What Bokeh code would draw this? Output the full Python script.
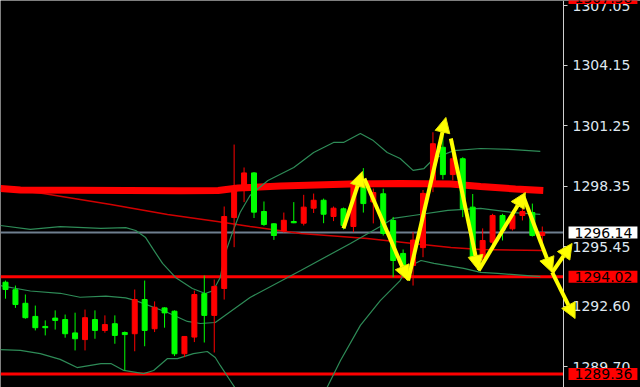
from bokeh.plotting import figure
from bokeh.models import (Range1d, FixedTicker, PrintfTickFormatter, Label, Arrow,
                          NormalHead, ColumnDataSource)
from bokeh.embed import file_html
from bokeh.resources import INLINE

# ---------------- data ----------------
opens = [1293.76, 1293.40, 1292.75, 1292.12, 1291.64, 1292.04, 1291.97, 1291.33, 1291.01, 1291.97,
         1291.45, 1291.77, 1291.35, 1291.29, 1292.93, 1291.53, 1292.53, 1292.37, 1290.33, 1291.13,
         1293.21, 1292.17, 1293.46, 1296.86, 1298.25, 1299.00, 1297.15, 1296.56, 1296.22, 1296.67,
         1296.59, 1297.31, 1297.69, 1296.91, 1297.28, 1296.43, 1298.33, 1297.61, 1298.00, 1296.72,
         1295.14, 1294.56, 1295.42, 1298.56, 1300.23, 1298.92, 1299.68, 1297.36, 1294.96, 1295.68,
         1296.96, 1296.32, 1296.96, 1297.10, 1296.00]
highs = [1293.84, 1293.60, 1293.17, 1292.64, 1291.93, 1292.41, 1292.21, 1292.30, 1292.45, 1292.41,
         1292.17, 1292.17, 1291.40, 1293.41, 1293.84, 1292.84, 1292.56, 1292.41, 1291.17, 1293.36,
         1294.08, 1293.89, 1297.39, 1300.36, 1299.26, 1299.04, 1297.63, 1296.59, 1297.10, 1297.60,
         1297.95, 1298.01, 1297.77, 1297.39, 1297.34, 1298.54, 1299.23, 1298.25, 1298.24, 1296.89,
         1295.33, 1296.16, 1298.18, 1300.95, 1300.99, 1300.55, 1299.75, 1297.99, 1296.34, 1297.04,
         1297.04, 1297.20, 1297.53, 1297.53, 1296.43]
lows = [1292.97, 1292.53, 1292.01, 1291.45, 1291.21, 1291.49, 1291.10, 1290.49, 1290.49, 1291.05,
        1291.34, 1290.81, 1289.53, 1290.45, 1290.69, 1291.37, 1291.58, 1290.22, 1290.17, 1290.89,
        1290.87, 1290.39, 1292.93, 1295.44, 1297.60, 1296.84, 1296.46, 1295.79, 1296.14, 1296.59,
        1296.48, 1297.08, 1296.59, 1296.69, 1296.29, 1296.16, 1297.10, 1296.58, 1296.00, 1294.00,
        1294.03, 1293.60, 1294.96, 1298.08, 1298.69, 1298.64, 1296.88, 1294.85, 1294.72, 1295.36,
        1295.76, 1296.24, 1296.72, 1295.95, 1295.42]
closes = [1293.41, 1292.69, 1292.06, 1291.58, 1291.58, 1291.93, 1291.29, 1291.05, 1292.06, 1291.45,
          1291.73, 1291.21, 1291.25, 1292.93, 1291.45, 1292.56, 1292.29, 1290.33, 1291.16, 1293.17,
          1292.17, 1293.56, 1296.91, 1298.25, 1299.00, 1297.12, 1296.53, 1296.00, 1296.73, 1296.61,
          1297.36, 1297.69, 1297.02, 1297.31, 1296.48, 1298.47, 1297.53, 1298.06, 1296.10, 1294.80,
          1294.23, 1295.78, 1298.02, 1300.40, 1298.92, 1299.68, 1297.28, 1294.96, 1295.76, 1296.96,
          1296.24, 1296.96, 1297.15, 1296.00, 1296.14]

# Bollinger bands (bar position, price)
bb_up_x = [-0.5, 2.5, 5.5, 9.6, 12.1, 13.1, 14.1, 14.8, 15.8, 17.1, 18.8, 20.1, 20.9, 21.6, 22.1,
           22.8, 23.6, 24.6, 26.4, 29.0, 31.0, 33.0, 34.0, 35.7, 37.0, 38.4, 39.7, 41.0, 42.1, 43.1,
           45.1, 47.8, 51.1, 53.8]
bb_up_y = [1296.48, 1296.29, 1296.43, 1296.34, 1296.38, 1296.24, 1295.90, 1295.38, 1294.66, 1293.99,
           1293.46, 1293.22, 1293.36, 1293.99, 1295.14, 1296.10, 1297.10, 1297.92, 1298.64, 1299.26,
           1299.98, 1300.46, 1300.46, 1300.89, 1300.55, 1299.98, 1299.69, 1299.12, 1299.21, 1299.69,
           1300.07, 1300.17, 1300.12, 1300.03]
bb_mid_x = [-0.5, 2.5, 5.5, 7.5, 10.1, 12.1, 13.1, 16.3, 18.3, 19.6, 21.1, 24.6, 29.7, 34.7, 37.7,
            39.0, 41.0, 44.5, 47.8, 51.1, 53.8]
bb_mid_y = [1293.60, 1293.34, 1293.23, 1293.04, 1293.09, 1293.01, 1292.88, 1292.31, 1291.88, 1291.78,
            1291.83, 1293.03, 1294.32, 1295.62, 1296.43, 1296.82, 1296.96, 1297.20, 1297.30, 1297.10,
            1297.01]
bb_low_x = [-0.5, 1.5, 3.5, 5.5, 7.2, 9.6, 10.6, 11.9, 13.9, 14.9, 16.3, 17.3, 18.9, 20.3, 21.1,
            21.6, 22.6, 23.6, 25.7, 28.7, 31.7, 33.7, 35.7, 37.7, 39.7, 40.4, 41.8, 43.1, 46.1, 47.8,
            49.5, 52.5, 53.8]
bb_low_y = [1290.53, 1290.49, 1290.34, 1290.06, 1289.67, 1289.86, 1289.86, 1289.53, 1289.38, 1289.53,
            1290.10, 1290.10, 1290.34, 1290.44, 1290.15, 1289.77, 1289.05, 1288.33, 1287.13, 1287.13,
            1288.09, 1290.01, 1291.69, 1292.88, 1293.84, 1294.47, 1294.80, 1294.66, 1294.42, 1294.23,
            1294.18, 1294.08, 1294.03]

# moving averages
ma_slow_x = [-0.5, 1.5, 17.6, 21.4, 23.4, 27.7, 34.7, 39.7, 44.8, 47.8, 51.3, 54.1]
ma_slow_y = [1298.25, 1298.18, 1298.14, 1298.16, 1298.28, 1298.37, 1298.47, 1298.49, 1298.47,
             1298.35, 1298.23, 1298.16]
ma_thin_x = [-0.5, 3.8, 10.6, 16.3, 21.3, 24.6, 29.7, 36.4, 41.0, 44.8, 47.8, 54.1]
ma_thin_y = [1298.25, 1298.01, 1297.49, 1297.01, 1296.67, 1296.43, 1296.10, 1295.86, 1295.62,
             1295.42, 1295.33, 1295.28]

# levels and axis
support_levels = [1294.02, 1289.36]
last_price = 1296.14
top_level = 1307.38
tick_values = [1289.70, 1292.60, 1295.45, 1298.35, 1301.25, 1304.15, 1307.05]

# hand-drawn arrows (bar position, price)
arr_x0 = [34.0, 36.1, 40.5, 44.8, 47.6, 52.1, 55.0, 55.0]
arr_y0 = [1296.34, 1298.73, 1293.84, 1300.65, 1294.32, 1297.87, 1294.23, 1294.23]
arr_x1 = [35.9, 40.5, 44.3, 47.6, 52.3, 55.0, 57.0, 57.3]
arr_y1 = [1299.07, 1293.84, 1301.66, 1294.32, 1298.06, 1294.23, 1295.62, 1292.02]

# ---------------- figure ----------------
X0, X_AXIS, X_END = -0.503, 56.137, 63.88   # left edge, price-axis position, right edge
idx = list(range(len(opens)))
p = figure(frame_width=640, frame_height=387,
           x_range=Range1d(X0, X_END), y_range=Range1d(1288.713, 1307.266),
           output_backend="svg", toolbar_location=None,
           y_axis_location="right", x_axis_location=None,
           min_border_left=0, min_border_top=0, min_border_bottom=0, min_border_right=0,
           background_fill_color="black", border_fill_color="black", outline_line_color=None)
p.xgrid.visible = False
p.ygrid.visible = False

ax = p.yaxis[0]
ax.fixed_location = X_AXIS
ax.ticker = FixedTicker(ticks=tick_values)
ax.formatter = PrintfTickFormatter(format="%.2f")
ax.axis_line_color = "#d0d0d0"
ax.major_tick_line_color = "#d0d0d0"
ax.major_tick_in = 0
ax.major_tick_out = 4
ax.minor_tick_line_color = None
ax.major_label_standoff = 5
ax.major_label_text_color = "#dfe7ef"
ax.major_label_text_font = "DejaVu Sans"
ax.major_label_text_font_size = "14px"

xs_full = [X0, X_AXIS]
# horizontal levels
p.line(xs_full, [last_price, last_price], line_color="#6f7f8f", line_width=2)
for lv in support_levels:
    p.line(xs_full, [lv, lv], line_color="#ff0000", line_width=3)

# indicators
p.line(ma_thin_x, ma_thin_y, line_color="#d00000", line_width=1.5)
p.line(ma_slow_x, ma_slow_y, line_color="#ff0000", line_width=7)
for bx, by in ((bb_up_x, bb_up_y), (bb_mid_x, bb_mid_y), (bb_low_x, bb_low_y)):
    p.line(bx, by, line_color="#2e8b57", line_width=1.2)

# candles (red = up, green = down)
colors = ["#ff0000" if c > o else "#00ff00" for o, c in zip(opens, closes)]
src = ColumnDataSource(dict(x=idx, o=opens, h=highs, l=lows, c=closes, col=colors,
                            top=[max(o, c) for o, c in zip(opens, closes)],
                            bot=[min(o, c) for o, c in zip(opens, closes)]))
p.segment(x0="x", y0="l", x1="x", y1="h", line_color="col", line_width=1, source=src)
p.vbar(x="x", width=0.5, top="top", bottom="bot", fill_color="col", line_color="col",
       line_width=1, source=src)

# price labels on the axis
lab_x = 56.64
def price_label(val, bg, txt):
    p.add_layout(Label(x=lab_x, y=val, text=txt, text_align="left", text_baseline="middle",
                       text_font="DejaVu Sans", text_font_size="14px", text_color="black",
                       background_fill_color=bg,
                       padding=dict(left=6, right=5, top=1, bottom=1)))

price_label(top_level, "#ff0000", "%.2f" % top_level)
price_label(last_price, "white", "%.2f" % last_price)
for lv in support_levels:
    price_label(lv, "#ff0000", "%.2f" % lv)

# arrows
asrc = ColumnDataSource(dict(x0=arr_x0, y0=arr_y0, x1=arr_x1, y1=arr_y1))
p.add_layout(Arrow(end=NormalHead(size=15, fill_color="#ffff00", line_color="#e6e600"),
                   x_start="x0", y_start="y0", x_end="x1", y_end="y1", source=asrc,
                   line_color="#ffff00", line_width=4))

open("out.html", "w").write(file_html(p, INLINE))
